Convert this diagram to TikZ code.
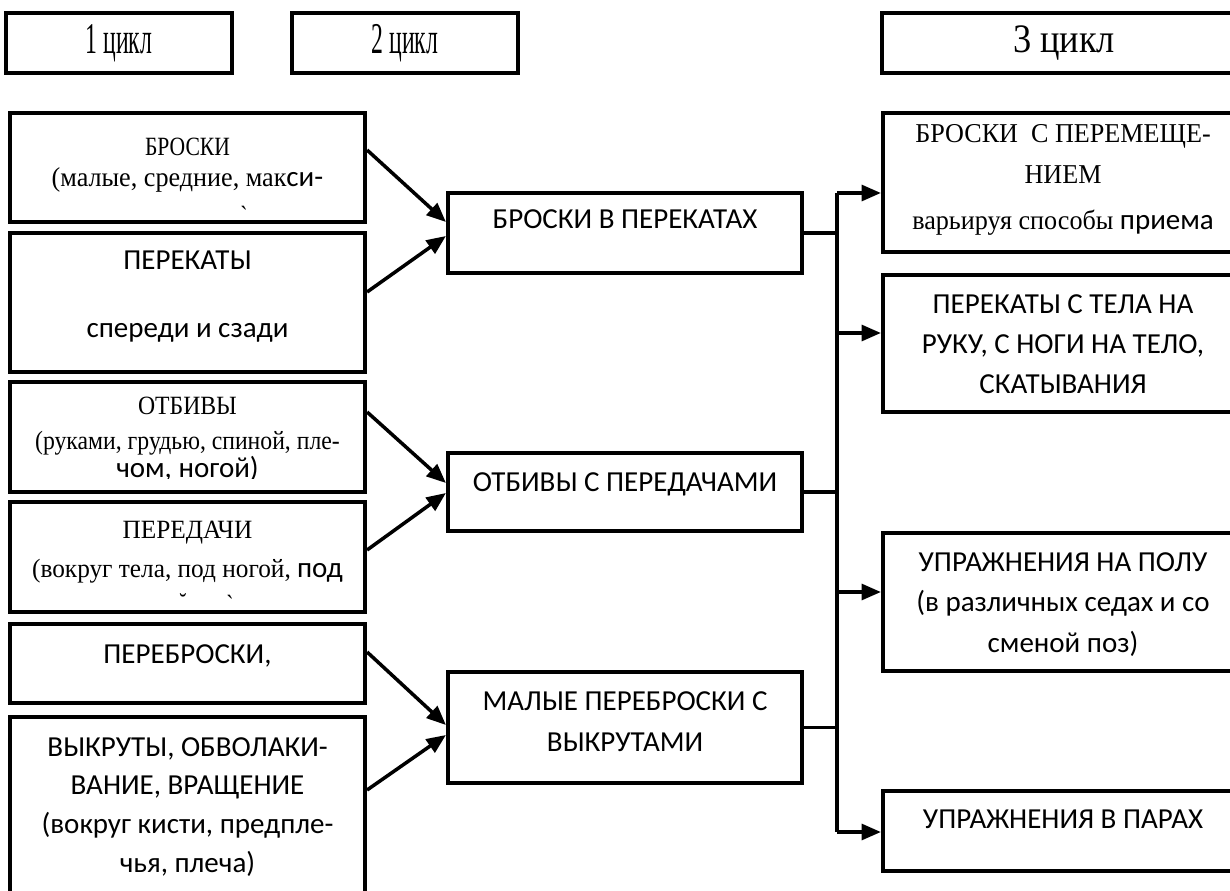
\documentclass[tikz,border=0pt]{standalone}
\usepackage{fontspec}
\setmainfont{Liberation Serif}
\newfontfamily\calib{Carlito}
\newfontfamily\timesc[FakeStretch=0.82]{Liberation Serif}
\newfontfamily\timesm[FakeStretch=0.9]{Liberation Serif}
\newfontfamily\timesw[FakeStretch=0.96]{Liberation Serif}
\newfontfamily\timeshd[FakeStretch=0.54]{Liberation Serif}
\newfontfamily\timeshdw[FakeStretch=0.9]{Liberation Serif}
\usetikzlibrary{arrows.meta}
\tikzstyle{box} = [rectangle, draw=black, line width=2.4pt, inner sep=0pt]
\tikzstyle{hd} = [box, minimum height=1.2cm, font=\timeshd\fontsize{25}{28}\selectfont]
\tikzstyle{sans} = [font=\calib\fontsize{16.5}{23}\selectfont, align=center, inner sep=0pt, anchor=base]
\tikzstyle{srf} = [font=\timesc\fontsize{15}{22}\selectfont, align=center, inner sep=0pt, anchor=base]
\tikzstyle{link} = [line width=2pt, -{Triangle[length=11pt,width=9pt]}]
\tikzstyle{wire} = [line width=2pt]
\newcommand{\sanspart}[1]{{\calib\fontsize{16.5}{22}\selectfont #1}}

\begin{document}
\begin{tikzpicture}[x=0.02cm, y=-0.02cm]
    \clip (0,0) rectangle (1230,891);
    % headers
    \node[hd, minimum width=4.52cm] (h1) at (119,43) {1 цикл};
    \node[hd, minimum width=4.52cm] (h2) at (405,43) {2 цикл};
    \node[hd, minimum width=7.28cm, font=\timeshdw\fontsize{23}{26}\selectfont] (h3) at (1064,43) {3 цикл};

    % cycle 1
    \node[box, minimum width=7.1cm, minimum height=2.18cm] (l1) at (187.5,167.5) {};
    \node[box, minimum width=7.1cm, minimum height=2.78cm] (l2) at (187.5,302.5) {};
    \node[box, minimum width=7.1cm, minimum height=2.2cm] (l3) at (187.5,437) {};
    \node[box, minimum width=7.1cm, minimum height=2.2cm] (l4) at (187.5,557) {};
    \node[box, minimum width=7.1cm, minimum height=1.58cm] (l5) at (187.5,663.5) {};
    \node[box, minimum width=7.1cm, minimum height=4.26cm] (l6) at (187.5,823.5) {};

    \node[srf] (l1t) at (187.5,187) {БРОСКИ\\[-4pt]{\timesw\fontsize{15.5}{22}\selectfont(малые, средние, мак}\sanspart{си-}};
    \node[srf] (l1f) at (244,225) {`};
    \node[sans] (l2t) at (187.5,338) {ПЕРЕКАТЫ\\[16pt]спереди и сзади};
    \node[srf, font=\timesm\fontsize{15}{22}\selectfont] (l3t) at (187.5,450) {ОТБИВЫ\\[-2pt](руками, грудью, спиной, пле-};
    \begin{scope}
        \clip (14,386) rectangle (361,479);
        \node[sans] (l3c) at (187.5,478) {чом, ногой)};
    \end{scope}
    \node[srf, font=\timesw\fontsize{15}{22}\selectfont] (l4t) at (187.5,577) {ПЕРЕДАЧИ\\(вокруг тела, под ногой, \sanspart{под}};
    \node[srf] (l4f) at (183,611) {˘};
    \node[srf] (l4g) at (230,613) {`};
    \node[sans] (l5t) at (187.5,663) {ПЕРЕБРОСКИ,};
    \node[sans, font=\calib\fontsize{16.5}{22}\selectfont] (l6t) at (187.5,872) {ВЫКРУТЫ, ОБВОЛАКИ-\\ВАНИЕ, ВРАЩЕНИЕ\\(вокруг кисти, предпле-\\чья, плеча)};

    % cycle 2
    \node[box, minimum width=7.08cm, minimum height=1.6cm] (m1) at (625,233) {};
    \node[box, minimum width=7.08cm, minimum height=1.56cm] (m2) at (625,492) {};
    \node[box, minimum width=7.08cm, minimum height=2.22cm] (m3) at (625,727.5) {};
    \node[sans] (m1t) at (625,229) {БРОСКИ В ПЕРЕКАТАХ};
    \node[sans] (m2t) at (625,492) {ОТБИВЫ С ПЕРЕДАЧАМИ};
    \node[sans] (m3t) at (625,751) {МАЛЫЕ ПЕРЕБРОСКИ С\\ВЫКРУТАМИ};

    % cycle 3
    \node[box, minimum width=7.3cm, minimum height=2.78cm] (r1) at (1065.5,182.5) {};
    \node[box, minimum width=7.3cm, minimum height=2.74cm] (r2) at (1065.5,343.5) {};
    \node[box, minimum width=7.3cm, minimum height=2.76cm] (r3) at (1065.5,602) {};
    \node[box, minimum width=7.3cm, minimum height=1.6cm] (r4) at (1065.5,831) {};
    \node[srf, font=\timesw\fontsize{15.5}{22}\selectfont] (r1t) at (1063,230) {БРОСКИ\ \ С ПЕРЕМЕЩЕ-\\[1.3pt]НИЕМ\\[4.6pt]варьируя способы \sanspart{приема}};
    \node[sans] (r2t) at (1063,394) {ПЕРЕКАТЫ С ТЕЛА НА\\РУКУ, С НОГИ НА ТЕЛО,\\СКАТЫВАНИЯ};
    \node[sans] (r3t) at (1063,652) {УПРАЖНЕНИЯ НА ПОЛУ\\(в различных седах и со\\сменой поз)};
    \node[sans] (r4t) at (1063,828) {УПРАЖНЕНИЯ В ПАРАХ};

    % arrows 1 -> 2
    \draw[link] (l1.east |- 0,150) -- (m1.west |- 0,222);
    \draw[link] (l2.east |- 0,292) -- (m1.west |- 0,236);
    \draw[link] (l3.east |- 0,412) -- (m2.west |- 0,483);
    \draw[link] (l4.east |- 0,550) -- (m2.west |- 0,493);
    \draw[link] (l5.east |- 0,652) -- (m3.west |- 0,725);
    \draw[link] (l6.east |- 0,790) -- (m3.west |- 0,735);

    % 2 -> 3
    \coordinate (s1) at (837,193);
    \coordinate (s2) at (837,333);
    \coordinate (s3) at (837,592);
    \coordinate (s4) at (837,832);
    \draw[wire] (s1) -- (s4);
    \draw[wire] (m1.east) -- (m1.east -| s1);
    \draw[wire] (m2.east) -- (m2.east -| s1);
    \draw[wire] (m3.east) -- (m3.east -| s1);
    \draw[link] (s1) -- (s1 -| r1.west);
    \draw[link] (s2) -- (s2 -| r2.west);
    \draw[link] (s3) -- (s3 -| r3.west);
    \draw[link] (s4) -- (s4 -| r4.west);
\end{tikzpicture}
\end{document}
